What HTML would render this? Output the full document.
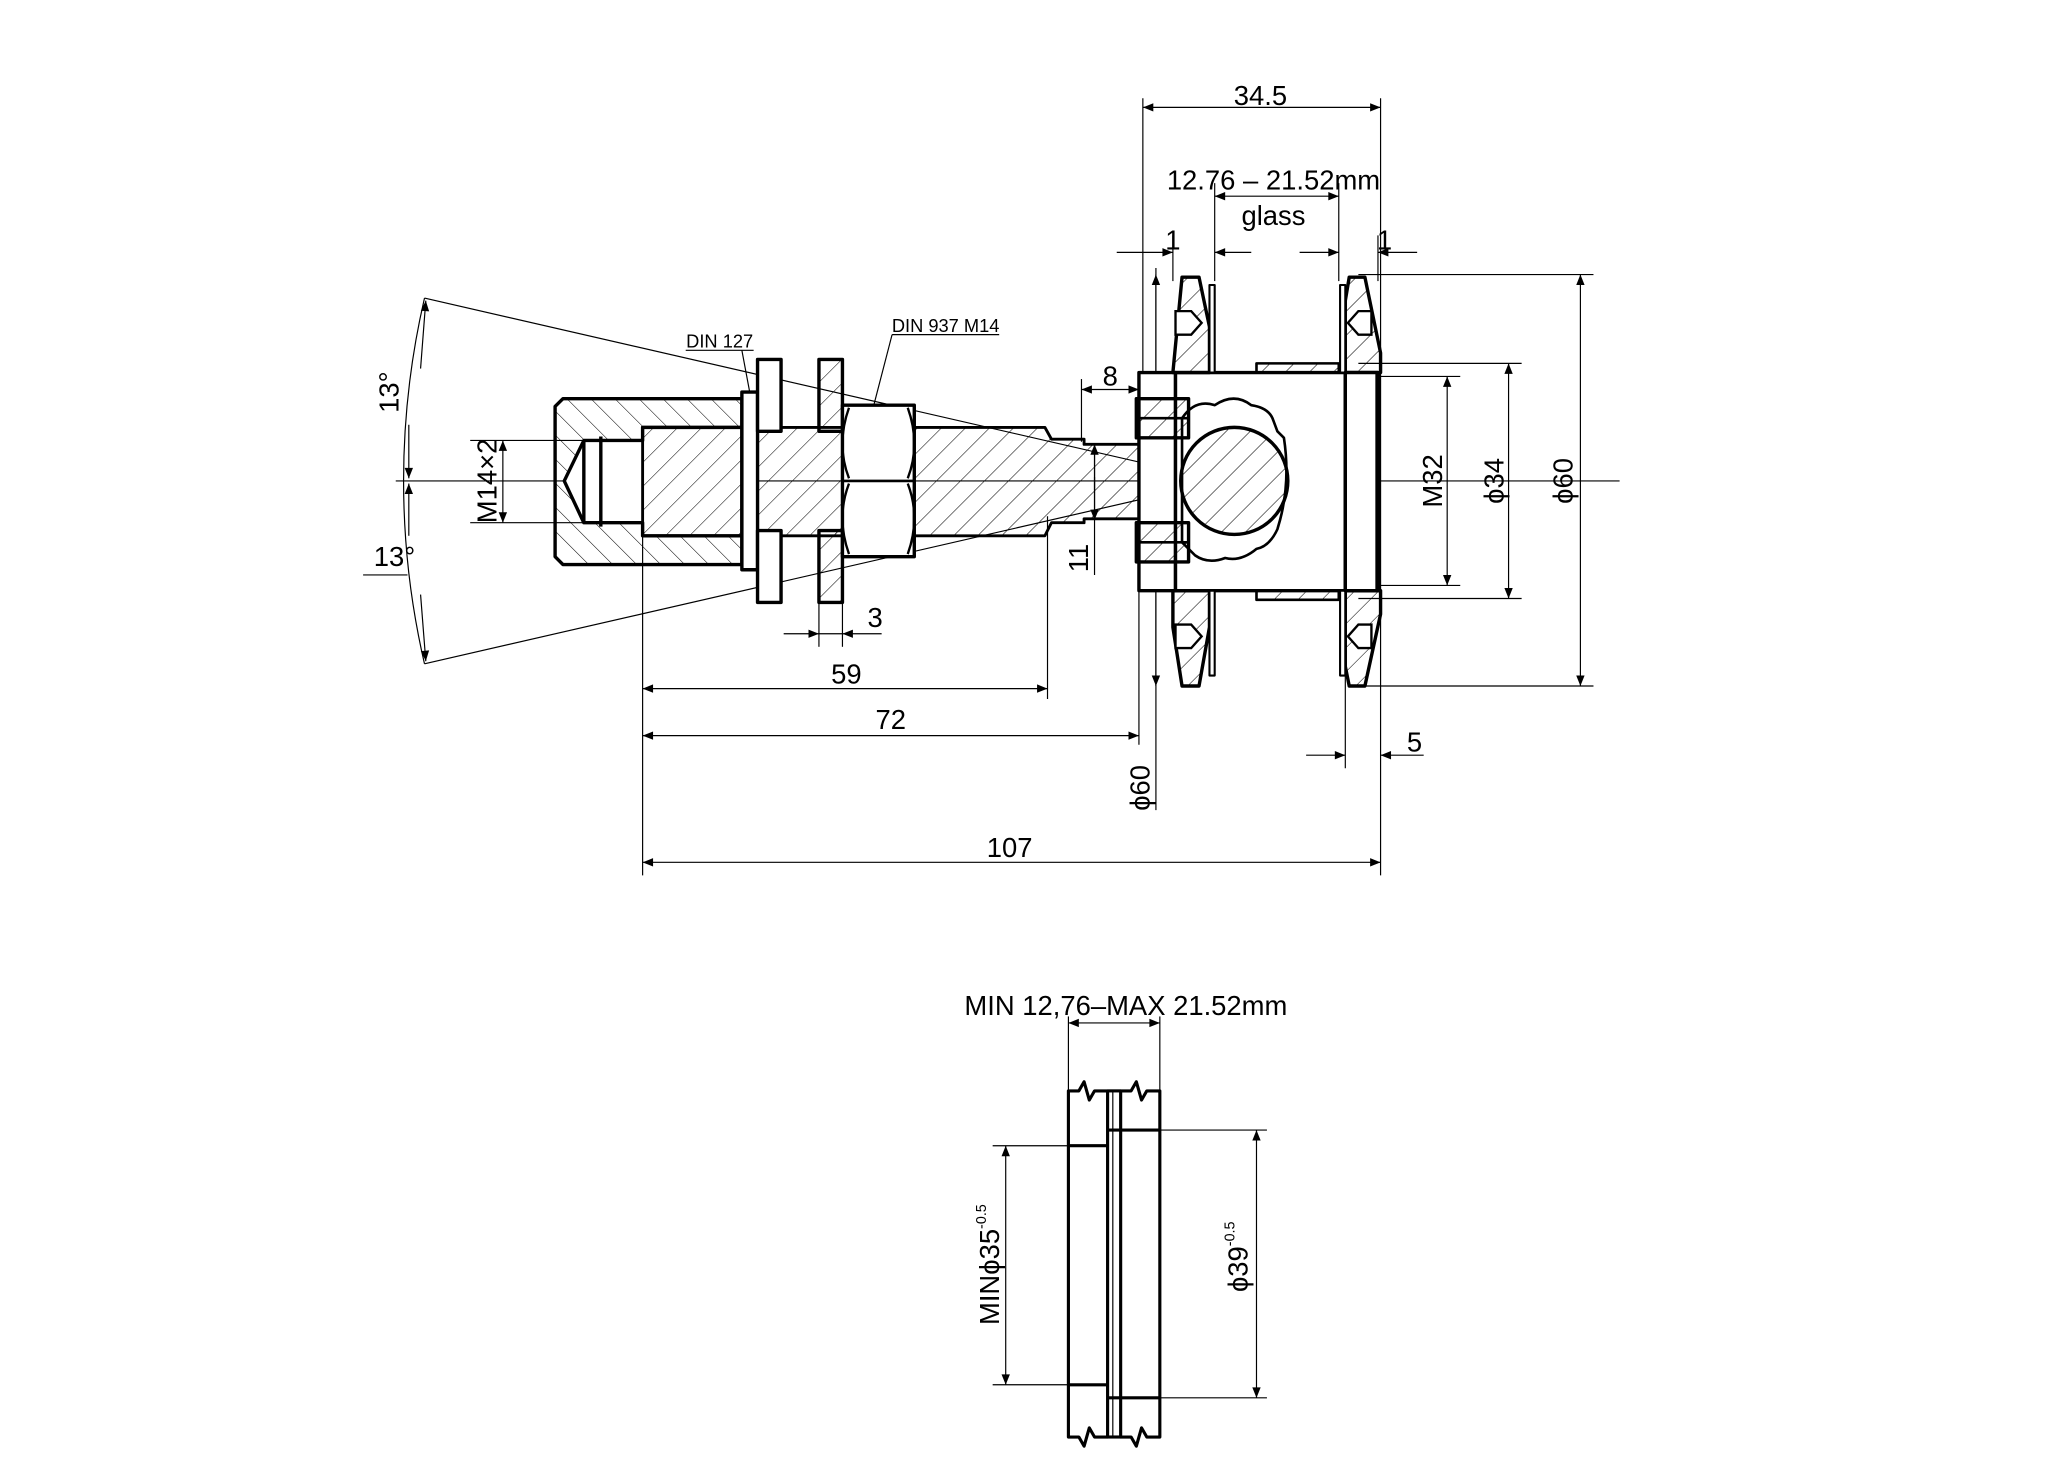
<!DOCTYPE html>
<html><head><meta charset="utf-8"><style>
html,body{margin:0;padding:0;background:#fff;}
svg{display:block}
text{font-family:"Liberation Sans Narrow","Liberation Sans",sans-serif;fill:#000;}
</style></head><body>
<svg width="2048" height="1483" viewBox="0 0 1568 1135" xmlns="http://www.w3.org/2000/svg">
<defs>
<pattern id="h" width="13" height="13" patternUnits="userSpaceOnUse" patternTransform="rotate(45)">
<line x1="0" y1="0" x2="0" y2="13" stroke="#000" stroke-width="0.8"/></pattern>
<pattern id="h2" width="13" height="13" patternUnits="userSpaceOnUse" patternTransform="rotate(-45)">
<line x1="0" y1="0" x2="0" y2="13" stroke="#000" stroke-width="0.8"/></pattern>
<marker id="a" viewBox="0 0 10 10" refX="10" refY="5" markerWidth="14" markerHeight="8" orient="auto-start-reverse" markerUnits="userSpaceOnUse"><path d="M0,1 L10,5 L0,9 Z" fill="#000"/></marker>
</defs>
<rect width="1568" height="1135" fill="#fff"/>
<g fill="none" stroke="#000" stroke-width="0.9">
<line x1="303" y1="368" x2="1240" y2="368"/>
<line x1="325" y1="228" x2="935" y2="368"/>
<line x1="325" y1="508" x2="935" y2="368"/>
<path d="M325,228 A620,620 0 0 0 325,508"/>
<line x1="313" y1="325" x2="313" y2="366" marker-end="url(#a)"/>
<line x1="313" y1="410" x2="313" y2="370" marker-end="url(#a)"/>
<line x1="322" y1="282" x2="326" y2="230" marker-end="url(#a)"/>
<line x1="322" y1="455" x2="326" y2="506" marker-end="url(#a)"/>
<line x1="278" y1="440" x2="312" y2="440"/>
<line x1="360" y1="337" x2="447" y2="337"/>
<line x1="360" y1="400" x2="447" y2="400"/>
<line x1="385" y1="337" x2="385" y2="400" marker-start="url(#a)" marker-end="url(#a)"/>
<line x1="492" y1="400" x2="492" y2="670"/>
<line x1="802" y1="395" x2="802" y2="535"/>
<line x1="872" y1="300" x2="872" y2="570"/>
<line x1="885" y1="205" x2="885" y2="620"/>
<line x1="1057" y1="75" x2="1057" y2="670"/>
<line x1="875" y1="75" x2="875" y2="290"/>
<line x1="1030" y1="460" x2="1030" y2="588"/>
<line x1="627" y1="460" x2="627" y2="495"/>
<line x1="645" y1="460" x2="645" y2="495"/>
<line x1="492" y1="527" x2="802" y2="527" marker-start="url(#a)" marker-end="url(#a)"/>
<line x1="492" y1="563" x2="872" y2="563" marker-start="url(#a)" marker-end="url(#a)"/>
<line x1="492" y1="660" x2="1057" y2="660" marker-start="url(#a)" marker-end="url(#a)"/>
<line x1="875" y1="82" x2="1057" y2="82" marker-start="url(#a)" marker-end="url(#a)"/>
<line x1="600" y1="485" x2="627" y2="485" marker-end="url(#a)"/>
<line x1="675" y1="485" x2="645" y2="485" marker-end="url(#a)"/>
<line x1="627" y1="485" x2="645" y2="485"/>
<line x1="1000" y1="578" x2="1030" y2="578" marker-end="url(#a)"/>
<line x1="1090" y1="578" x2="1057" y2="578" marker-end="url(#a)"/>
<line x1="930" y1="150" x2="1025" y2="150" marker-start="url(#a)" marker-end="url(#a)"/>
<line x1="930" y1="140" x2="930" y2="215"/>
<line x1="1025" y1="140" x2="1025" y2="215"/>
<line x1="898" y1="180" x2="898" y2="215"/>
<line x1="1055" y1="180" x2="1055" y2="215"/>
<line x1="855" y1="193" x2="898" y2="193" marker-end="url(#a)"/>
<line x1="958" y1="193" x2="930" y2="193" marker-end="url(#a)"/>
<line x1="995" y1="193" x2="1025" y2="193" marker-end="url(#a)"/>
<line x1="1085" y1="193" x2="1055" y2="193" marker-end="url(#a)"/>
<line x1="828" y1="298" x2="872" y2="298" marker-start="url(#a)" marker-end="url(#a)"/>
<line x1="828" y1="290" x2="828" y2="338"/>
<line x1="838" y1="340" x2="838" y2="440"/>
<line x1="838" y1="375" x2="838" y2="340" marker-end="url(#a)"/>
<line x1="838" y1="365" x2="838" y2="398" marker-end="url(#a)"/>
<line x1="885" y1="210" x2="885" y2="525" marker-start="url(#a)" marker-end="url(#a)"/>
<line x1="1040" y1="210" x2="1220" y2="210"/>
<line x1="1040" y1="525" x2="1220" y2="525"/>
<line x1="1040" y1="278" x2="1165" y2="278"/>
<line x1="1040" y1="458" x2="1165" y2="458"/>
<line x1="1040" y1="288" x2="1118" y2="288"/>
<line x1="1040" y1="448" x2="1118" y2="448"/>
<line x1="1108" y1="288" x2="1108" y2="448" marker-start="url(#a)" marker-end="url(#a)"/>
<line x1="1155" y1="278" x2="1155" y2="458" marker-start="url(#a)" marker-end="url(#a)"/>
<line x1="1210" y1="210" x2="1210" y2="525" marker-start="url(#a)" marker-end="url(#a)"/>
<line x1="525" y1="268" x2="577" y2="268"/>
<line x1="568" y1="268" x2="574" y2="300"/>
<line x1="683" y1="256" x2="765" y2="256"/>
<line x1="683" y1="256" x2="669" y2="310"/>
</g>
<g stroke="#000" stroke-width="2.6" stroke-linejoin="round">
<path d="M431,305 L568,305 L568,432 L431,432 L425,426 L425,311 Z" fill="url(#h2)"/>
<path d="M447,337 L492,337 L492,327 L568,327 L568,410 L492,410 L492,400 L447,400 L432,368 Z" fill="#fff"/>
<line x1="460" y1="334" x2="460" y2="403"/>
<line x1="447" y1="337" x2="447" y2="400"/>
<path d="M492,327 L800,327 L805,336 L830,336 L830,340 L872,340 L872,397 L830,397 L830,400 L805,400 L800,410 L492,410 Z" fill="url(#h)" stroke-width="2.2"/>
<rect x="568" y="300" width="12" height="136" fill="#fff"/>
<rect x="580" y="275" width="18" height="55" fill="#fff"/>
<rect x="580" y="406" width="18" height="55" fill="#fff"/>
<rect x="627" y="275" width="18" height="55" fill="url(#h)"/>
<rect x="627" y="406" width="18" height="55" fill="url(#h)"/>
<rect x="645" y="310" width="55" height="116" fill="#fff"/>
<path d="M650,312 Q640,340 650,366 M695,312 Q705,340 695,366 M650,370 Q640,396 650,424 M695,370 Q705,396 695,424" fill="none" stroke-width="1.8"/>
<line x1="645" y1="368" x2="700" y2="368" stroke-width="2"/>
<rect x="872" y="285" width="28" height="167" fill="#fff"/>
<rect x="900" y="285" width="130" height="167" fill="#fff"/>
<rect x="1030" y="285" width="25" height="167" fill="#fff"/>
<rect x="962" y="278" width="63" height="7" fill="url(#h)" stroke-width="2"/>
<rect x="962" y="452" width="63" height="7" fill="url(#h)" stroke-width="2"/>
<path d="M905,320 Q915,305 930,310 Q945,300 958,310 Q972,312 975,322 L978,330 L983,335 Q988,368 980,398 L978,405 Q972,418 962,420 Q950,430 938,427 Q925,432 915,425 L905,415 Z" fill="#fff" stroke-width="2"/>
<circle cx="945" cy="368" r="41" fill="url(#h)"/>
<rect x="870" y="305" width="40" height="30" fill="url(#h)"/>
<rect x="870" y="400" width="40" height="30" fill="url(#h)"/>
<line x1="870" y1="320" x2="910" y2="320" stroke-width="2"/>
<line x1="870" y1="415" x2="910" y2="415" stroke-width="2"/>
<path d="M905,212 L918,212 L926,250 L926,285 L898,285 Z" fill="url(#h)"/>
<path d="M898,452 L926,452 L926,480 L918,525 L905,525 L898,480 Z" fill="url(#h)"/>
<rect x="926" y="218" width="4" height="67" fill="#fff" stroke-width="1.6"/>
<rect x="926" y="452" width="4" height="65" fill="#fff" stroke-width="1.6"/>
<path d="M1033,212 L1045,212 L1057,270 L1057,285 L1030,285 L1030,230 Z" fill="url(#h)"/>
<path d="M1030,452 L1057,452 L1057,470 L1045,525 L1033,525 L1030,510 Z" fill="url(#h)"/>
<rect x="1026" y="218" width="4" height="67" fill="#fff" stroke-width="1.6"/>
<rect x="1026" y="452" width="4" height="65" fill="#fff" stroke-width="1.6"/>
<rect x="1030" y="285" width="25" height="167" fill="#fff"/>
<line x1="1055" y1="285" x2="1055" y2="452" stroke-width="4"/>
</g>
<g stroke="#000" stroke-width="1.8" fill="#fff">
<path d="M900,238 L912,238 L920,247 L912,256 L900,256Z"/>
<path d="M900,478 L912,478 L920,487 L912,496 L900,496Z"/>
<path d="M1050,238 L1040,238 L1032,247 L1040,256 L1050,256Z"/>
<path d="M1050,478 L1040,478 L1032,487 L1040,496 L1050,496Z"/>
</g>
<g fill="none" stroke="#000" stroke-width="0.9">
<line x1="818" y1="778" x2="818" y2="835"/>
<line x1="888" y1="778" x2="888" y2="835"/>
<line x1="818" y1="783" x2="888" y2="783" marker-start="url(#a)" marker-end="url(#a)"/>
<line x1="760" y1="877" x2="818" y2="877"/>
<line x1="760" y1="1060" x2="818" y2="1060"/>
<line x1="770" y1="877" x2="770" y2="1060" marker-start="url(#a)" marker-end="url(#a)"/>
<line x1="888" y1="865" x2="970" y2="865"/>
<line x1="888" y1="1070" x2="970" y2="1070"/>
<line x1="962" y1="865" x2="962" y2="1070" marker-start="url(#a)" marker-end="url(#a)"/>
<line x1="852" y1="835" x2="852" y2="1100"/>
</g>
<g stroke="#000" stroke-width="2.4" fill="none" stroke-linejoin="round">
<path d="M818,835 L826,835 L830,828 L834,842 L838,835 L848,835 L848,1100 L838,1100 L834,1093 L830,1107 L826,1100 L818,1100 Z"/>
<path d="M858,835 L866,835 L870,828 L874,842 L878,835 L888,835 L888,1100 L878,1100 L874,1093 L870,1107 L866,1100 L858,1100 Z"/>
<line x1="848" y1="835" x2="858" y2="835"/><line x1="848" y1="1100" x2="858" y2="1100"/>
<line x1="818" y1="877" x2="848" y2="877"/>
<line x1="818" y1="1060" x2="848" y2="1060"/>
<line x1="848" y1="865" x2="888" y2="865"/>
<line x1="848" y1="1070" x2="888" y2="1070"/>
</g>
<g font-size="21">
<text x="965" y="80" text-anchor="middle">34.5</text>
<text x="975" y="145" text-anchor="middle">12.76 – 21.52mm</text>
<text x="975" y="172" text-anchor="middle">glass</text>
<text x="898" y="191" text-anchor="middle">1</text>
<text x="1060" y="191" text-anchor="middle">1</text>
<text x="850" y="295" text-anchor="middle">8</text>
<text x="1083" y="575" text-anchor="middle">5</text>
<text x="670" y="480" text-anchor="middle">3</text>
<text x="648" y="523" text-anchor="middle">59</text>
<text x="682" y="558" text-anchor="middle">72</text>
<text x="773" y="656" text-anchor="middle">107</text>
<text x="302" y="433" text-anchor="middle">13°</text>
<text transform="translate(305,300) rotate(-90)" text-anchor="middle">13°</text>
<text transform="translate(380,368) rotate(-90)" text-anchor="middle">M14×2</text>
<text transform="translate(833,427) rotate(-90)" text-anchor="middle">11</text>
<text transform="translate(880,603) rotate(-90)" text-anchor="middle">ϕ60</text>
<text transform="translate(1104,368) rotate(-90)" text-anchor="middle">M32</text>
<text transform="translate(1151,368) rotate(-90)" text-anchor="middle">ϕ34</text>
<text transform="translate(1204,368) rotate(-90)" text-anchor="middle">ϕ60</text>
<text x="862" y="777" text-anchor="middle">MIN 12,76–MAX 21.52mm</text>
<text transform="translate(765,968) rotate(-90)" text-anchor="middle">MINϕ35<tspan font-size="11" dy="-10">-0.5</tspan></text>
<text transform="translate(955,962) rotate(-90)" text-anchor="middle">ϕ39<tspan font-size="11" dy="-10">-0.5</tspan></text>
</g>
<g font-size="14">
<text x="551" y="266" text-anchor="middle">DIN 127</text>
<text x="724" y="254" text-anchor="middle">DIN 937 M14</text>
</g>
</svg>
</body></html>
